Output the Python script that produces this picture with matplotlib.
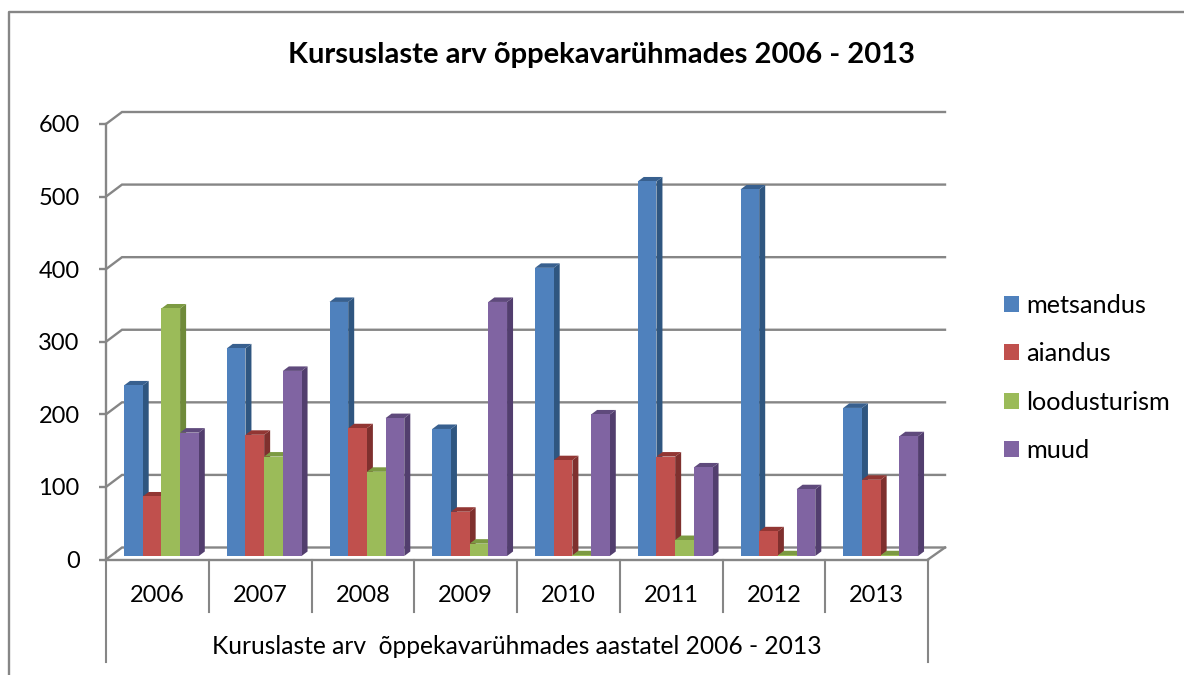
'''Kursuslaste arv: 3D-looking clustered columns, drawn on a flat axes.'''

import matplotlib
matplotlib.use('Agg')
import matplotlib.pyplot as plt
from matplotlib.patches import Patch
import numpy as np

years = ['2006', '2007', '2008', '2009', '2010', '2011', '2012', '2013']
metsandus = [235, 286, 350, 175, 397, 516, 505, 204]
aiandus = [82, 167, 176, 61, 132, 137, 34, 105]
loodusturism = [341, 137, 116, 17, 1, 22, 1, 1]
muud = [170, 255, 190, 350, 195, 122, 92, 165]
series_names = ['metsandus', 'aiandus', 'loodusturism', 'muud']
yticks = [0, 100, 200, 300, 400, 500, 600]

title = 'Kursuslaste arv õppekavarühmades 2006 - 2013'
xlabel = 'Kuruslaste arv  õppekavarühmades aastatel 2006 - 2013'

# front, side, top
colors = [
    ('#4F81BD', '#2F5680', '#38608F'),
    ('#C0504D', '#7F302E', '#923633'),
    ('#9BBB59', '#6F8A3A', '#7C9A42'),
    ('#8064A2', '#523E6E', '#5F4A7C'),
]
GRAY = '#868686'

W, H = 1184, 675
plt.rcParams['font.family'] = ['Lato', 'DejaVu Sans']
fig = plt.figure(figsize=(W/100, H/100), dpi=100)

# front plane of the plot box, in pixels
left, right, top, bottom = 106, 928, 124, 559.5
ax = fig.add_axes([left/W, 1-bottom/H, (right-left)/W, (bottom-top)/H])
ax.set_xlim(0, len(years))
ax.set_ylim(0, 600)

# pixel -> data sizes
px = len(years)/(right-left)
py = 600/(bottom-top)

# back wall and floor
wall_x, wall_y = 16*px, 12*py
for v in yticks:
    ax.plot([0, wall_x, len(years)+17*px], [v, v+wall_y, v+wall_y], color=GRAY, lw=1.7,
            clip_on=False, zorder=1, solid_joinstyle='miter')
ax.plot([len(years), len(years)+17*px], [0, wall_y], color=GRAY, lw=1.7, clip_on=False, zorder=1)

# bars
bar_w = 18.7*px
depth_x, depth_y = 6*px, 4.5*py
base = 3.5*py
start = 18*px
for s, values in enumerate([metsandus, aiandus, loodusturism, muud]):
    front, side, topc = colors[s]
    for i, v in enumerate(values):
        x0 = i + start + s*bar_w
        x1 = x0 + bar_w
        y1 = base + v
        ax.fill([x1, x1+depth_x, x1+depth_x, x1], [base, base+depth_y, y1+depth_y, y1],
                color=side, lw=0, zorder=3+s*2, clip_on=False)
        ax.fill([x0, x0+depth_x, x1+depth_x, x1], [y1, y1+depth_y, y1+depth_y, y1],
                color=topc, lw=0, zorder=3+s*2, clip_on=False)
        ax.bar(x0, v, bar_w, bottom=base, align='edge', color=front, lw=0, zorder=4+s*2, clip_on=False)

# axes, category dividers
for name in ['top', 'right']:
    ax.spines[name].set_visible(False)
for name in ['left', 'bottom']:
    ax.spines[name].set_color(GRAY)
    ax.spines[name].set_linewidth(1.7)
    ax.spines[name].set_zorder(2)
ax.set_yticks(yticks)
ax.tick_params(axis='y', length=5, width=1.7, color=GRAY, labelsize=17, pad=14)
ax.set_xticks(np.arange(len(years))+0.5, years)
ax.tick_params(axis='x', length=0, labelsize=17, pad=18)
for i in range(len(years)+1):
    low = 102.5 if i in (0, len(years)) else 52
    ax.plot([i, i], [0, -low*py], color=GRAY, lw=1.5, clip_on=False, zorder=2)

fig.text(517/W, 1-646/H, xlabel, ha='center', va='center', fontsize=17.7)
fig.text(602/W, 1-55/H, title, ha='center', va='center', fontsize=21, fontweight='bold')

handles = [Patch(color=c[0], lw=0) for c in colors]
fig.legend(handles, series_names, loc='upper left', bbox_to_anchor=(1004/W, 1-294/H),
           frameon=False, fontsize=18.2, handlelength=0.6, handleheight=0.6,
           handletextpad=0.28, labelspacing=1.0, borderpad=0, borderaxespad=0)

# outer chart frame
fig.add_artist(plt.Line2D([9/W, 9/W, 1], [0, 1-12/H, 1-12/H], color=GRAY, lw=1.7))

fig.savefig('out.png', dpi=100)
